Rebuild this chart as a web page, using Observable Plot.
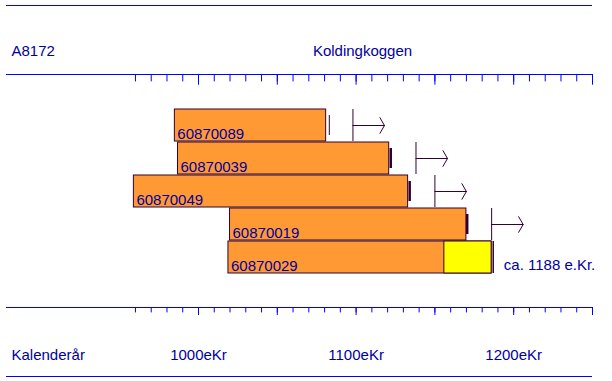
<!DOCTYPE html>
<html>
<head>
<meta charset="utf-8">
<script src="https://cdn.jsdelivr.net/npm/d3@7"></script>
<script src="https://cdn.jsdelivr.net/npm/@observablehq/plot@0.6"></script>
<style>
html, body { margin: 0; padding: 0; background: #ffffff; }
#wrap { position: relative; width: 612px; height: 381px; overflow: hidden; }
#rules { position: absolute; left: 6px; top: 5px; width: 586px; height: 372px; box-sizing: border-box;
  border-top: 1px solid #0000ff; border-bottom: 1px solid #0000ff; pointer-events: none; }
</style>
</head>
<body>
<div id="wrap"><div id="rules"></div></div>
<script>
// ---- data ----
const seriesIds     = ["60870089", "60870039", "60870049", "60870019", "60870029"];
const startYears    = [985, 987, 959, 1020, 1019];
const endYears      = [1081, 1121, 1133, 1170, 1186];
const sapwoodStart  = [null, null, null, null, 1156];
const endMarkYears  = [1083, 1122, 1134, 1170.5, 1187];
const endMarkTypes  = ["thin", "thick", "thick", "thick", "full"];
const arrowStart    = [1098, 1138, 1150, 1186, null];
const arrowEnd      = [1118, 1158, 1170, 1206, null];
const datingYear    = 1188;
const datingLabel   = "ca. 1188 e.Kr.";
const headerLeft    = "A8172";
const headerTitle   = "Koldingkoggen";
const footerLeft    = "Kalenderår";
const minorTicks    = [960, 970, 980, 990, 1000, 1010, 1020, 1030, 1040, 1050, 1060, 1070, 1080, 1090, 1100,
                       1110, 1120, 1130, 1140, 1150, 1160, 1170, 1180, 1190, 1200, 1210, 1220, 1230, 1240, 1250];
const majorTicks    = [1000, 1050, 1100, 1150, 1200, 1250];
const labelTicks    = [1000, 1100, 1200];
const tickSuffix    = "eKr";

// ---- styles ----
const LINE = "#0000ff";
const TEXT = "#0000a0";
const DARK = "#330033";
const ORANGE = "#ff9933";
const YELLOW = "#ffff00";

const rows = seriesIds.map((id, i) => ({
  id, start: startYears[i], end: endYears[i], sap: sapwoodStart[i],
  endMark: endMarkYears[i], endType: endMarkTypes[i], a1: arrowStart[i], a2: arrowEnd[i]
}));
const arrows = rows.filter(d => d.a1 != null);
const sapRows = rows.filter(d => d.sap != null);
const dating = sapRows.map(d => ({id: d.id, year: datingYear, label: datingLabel}));

const chart = Plot.plot({
  width: 612,
  height: 381,
  marginTop: 74,
  marginBottom: 74,
  marginLeft: 6,
  marginRight: 20,
  style: {fontFamily: "'Liberation Sans', Arial, sans-serif", fontSize: "15px", background: "transparent"},
  x: {domain: [960, 1250], range: [134.96, 592], axis: null},
  y: {type: "band", domain: seriesIds, range: [108, 273.5], paddingInner: 0.03, paddingOuter: 0, axis: null},
  marks: [
    Plot.frame({anchor: "top", stroke: LINE}),
    Plot.frame({anchor: "bottom", stroke: LINE}),
    // top axis (ticks pointing down)
    Plot.axisX(minorTicks, {anchor: "top", tickSize: -6.4, tickFormat: () => "", stroke: LINE, label: null}),
    Plot.axisX(majorTicks, {anchor: "top", tickSize: -9.7, tickFormat: () => "", stroke: LINE, label: null}),
    // bottom axis
    Plot.axisX(minorTicks, {anchor: "bottom", tickSize: 5.4, tickFormat: () => "", stroke: LINE, label: null}),
    Plot.axisX(majorTicks, {anchor: "bottom", tickSize: 8, tickFormat: () => "", stroke: LINE, label: null}),
    Plot.axisX(labelTicks, {anchor: "bottom", tickSize: 0, tickPadding: 42, tickFormat: d => `${d}${tickSuffix}`,
      fill: TEXT, stroke: "none", label: null}),
    // headers / footer
    Plot.text([headerLeft], {frameAnchor: "top-left", lineAnchor: "middle", text: d => d, textAnchor: "start", dx: 5, dy: -23, fill: TEXT}),
    Plot.text([headerTitle], {frameAnchor: "top-left", lineAnchor: "middle", text: d => d, textAnchor: "middle", dx: 356, dy: -23, fill: TEXT}),
    Plot.text([footerLeft], {frameAnchor: "bottom-left", lineAnchor: "middle", text: d => d, textAnchor: "start", dx: 5, dy: 47.7, fill: TEXT}),
    // series bars
    Plot.barX(rows, {x1: "start", x2: "end", y: "id", fill: ORANGE, stroke: DARK, strokeWidth: 1}),
    Plot.barX(sapRows, {x1: "sap", x2: "end", y: "id", fill: YELLOW, stroke: DARK, strokeWidth: 1}),
    Plot.text(rows, {x: "start", y: "id", text: "id", textAnchor: "start", dx: 2.5, dy: 8.5, fill: TEXT}),
    // end marks
    Plot.tickX(rows.filter(d => d.endType === "thin"), {x: "endMark", y: "id", stroke: DARK, strokeWidth: 1, inset: 6}),
    Plot.tickX(rows.filter(d => d.endType === "thick"), {x: "endMark", y: "id", stroke: DARK, strokeWidth: 2.5, inset: 6}),
    Plot.tickX(rows.filter(d => d.endType === "full"), {x: "endMark", y: "id", stroke: DARK, strokeWidth: 1.5}),
    // felling arrows
    Plot.tickX(arrows, {x: "a1", y: "id", stroke: DARK, strokeWidth: 1}),
    Plot.arrow(arrows, {x1: "a1", x2: "a2", y1: "id", y2: "id", stroke: DARK, strokeWidth: 1, headAngle: 120, headLength: 13.5}),
    // dating label
    Plot.text(dating, {x: "year", y: "id", text: "label", textAnchor: "start", dx: 9, dy: 7.7, fill: TEXT})
  ]
});
document.getElementById("wrap").insertBefore(chart, document.getElementById("rules"));
</script>
</body>
</html>
